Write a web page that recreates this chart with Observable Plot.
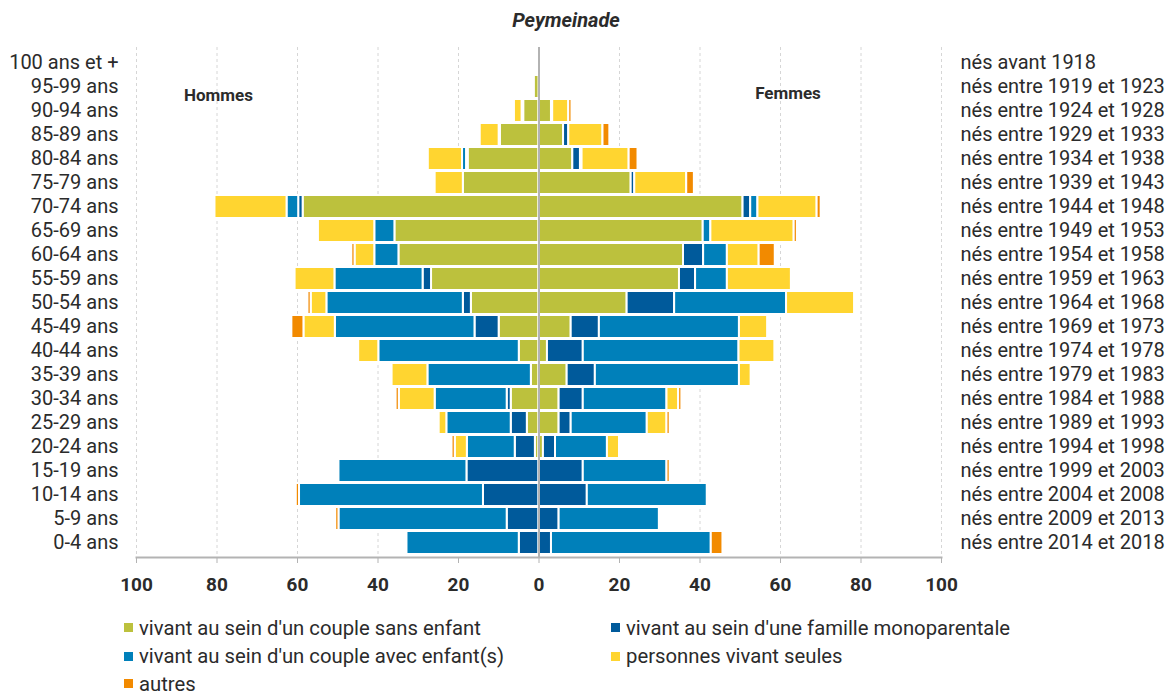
<!DOCTYPE html>
<html>
<head>
<meta charset="utf-8">
<script src="https://cdn.jsdelivr.net/npm/d3@7"></script>
<script src="https://cdn.jsdelivr.net/npm/@observablehq/plot@0.6"></script>
<style>
  html, body { margin: 0; padding: 0; background: #fff; }
  body { width: 1167px; height: 693px; position: relative; overflow: hidden; font-family: Roboto, "Noto Sans", sans-serif; color: #2b2b2b; }
  #title { position: absolute; left: 566px; top: 20px; transform: translate(-50%, -50%); font-weight: bold; font-style: italic; font-size: 20px; line-height: 22px; color: #2b2b2b; white-space: nowrap; }
  #chart { position: absolute; left: 0; top: 36px; }
  .leg { position: absolute; font-size: 20.3px; line-height: 18px; color: #2b2b2b; white-space: nowrap; display: flex; align-items: center; transform: translateY(-50%); }
  .leg span.sw { display: inline-block; width: 9px; height: 9px; margin-right: 6px; }
</style>
</head>
<body>
<div id="title">Peymeinade</div>
<div id="chart"></div>
<div id="legend"></div>
<script>
const ages = ["100 ans et +","95-99 ans","90-94 ans","85-89 ans","80-84 ans","75-79 ans","70-74 ans","65-69 ans","60-64 ans","55-59 ans","50-54 ans","45-49 ans","40-44 ans","35-39 ans","30-34 ans","25-29 ans","20-24 ans","15-19 ans","10-14 ans","5-9 ans","0-4 ans"];
const births = ["nés avant 1918","nés entre 1919 et 1923","nés entre 1924 et 1928","nés entre 1929 et 1933","nés entre 1934 et 1938","nés entre 1939 et 1943","nés entre 1944 et 1948","nés entre 1949 et 1953","nés entre 1954 et 1958","nés entre 1959 et 1963","nés entre 1964 et 1968","nés entre 1969 et 1973","nés entre 1974 et 1978","nés entre 1979 et 1983","nés entre 1984 et 1988","nés entre 1989 et 1993","nés entre 1994 et 1998","nés entre 1999 et 2003","nés entre 2004 et 2008","nés entre 2009 et 2013","nés entre 2014 et 2018"];

const categories = ["vivant au sein d'un couple sans enfant","vivant au sein d'une famille monoparentale","vivant au sein d'un couple avec enfant(s)","personnes vivant seules","autres"];
const colors = ["#bcc13d","#005a9b","#0080ba","#ffd530","#f28a00"];

// Hommes (men), values per age group, top to bottom
const menCoupleSans = [0, 1.2, 3.8, 9.6, 17.6, 18.8, 58.6, 35.8, 34.8, 26.7, 16.8, 9.9, 4.9, 1.9, 6.9, 2.9, 0.9, 0, 0, 0, 0];
const menMono       = [0, 0, 0, 0.3, 0.4, 0, 1.1, 0, 0, 2.1, 2.0, 6.0, 0, 0, 1.0, 4.0, 5.0, 17.9, 13.8, 7.9, 4.9];
const menCoupleAvec = [0, 0, 0.4, 0, 1.0, 0, 2.9, 5.0, 6.0, 21.9, 33.9, 34.7, 34.9, 25.7, 17.9, 16.0, 11.9, 31.8, 45.7, 41.8, 27.9];
const menSeules     = [0, 0.3, 1.9, 4.7, 8.5, 7.0, 17.9, 14.0, 4.9, 9.9, 3.9, 7.8, 5.0, 8.9, 8.9, 1.9, 3.0, 0, 0, 0, 0];
const menAutres     = [0, 0, 0, 0, 0, 0, 0, 0, 0.8, 0, 0.8, 3.0, 0, 0, 0.8, 0, 0.8, 0, 0.8, 0.8, 0];

// Femmes (women)
const womenCoupleSans = [0, 0, 3.1, 6.1, 8.4, 22.9, 50.7, 40.8, 35.9, 34.9, 21.9, 8.0, 2.1, 7.0, 5.0, 5.0, 1.1, 0, 0, 0, 0];
const womenMono       = [0, 0, 0, 1.3, 1.9, 0.9, 1.9, 0, 5.0, 4.0, 11.8, 7.0, 8.9, 7.0, 6.0, 3.0, 3.0, 11.0, 12.0, 5.0, 3.1];
const womenCoupleAvec = [0, 0, 0.3, 0, 0.4, 0, 1.8, 1.9, 5.9, 7.9, 27.8, 34.8, 38.7, 35.8, 20.8, 18.9, 12.9, 20.8, 29.8, 24.9, 39.7];
const womenSeules     = [0, 0, 4.0, 8.5, 11.7, 12.9, 14.7, 20.7, 7.9, 15.9, 16.9, 7.0, 8.9, 2.9, 2.9, 4.9, 3.0, 0, 0, 0, 0];
const womenAutres     = [0, 0, 0.8, 1.7, 2.2, 1.9, 1.0, 0.8, 4.0, 0, 0, 0, 0, 0, 0.8, 0.8, 0, 0.8, 0, 0, 2.9];

const xTicks = [-100, -80, -60, -40, -20, 0, 20, 40, 60, 80, 100];
const sideLabels = ["Hommes", "Femmes"];

const menSeries = [menCoupleSans, menMono, menCoupleAvec, menSeules, menAutres];
const womenSeries = [womenCoupleSans, womenMono, womenCoupleAvec, womenSeules, womenAutres];

const rows = [];
ages.forEach((age, i) => {
  categories.forEach((cat, k) => {
    if (menSeries[k][i] > 0) rows.push({age, cat, value: -menSeries[k][i], side: "H"});
  });
  categories.forEach((cat, k) => {
    if (womenSeries[k][i] > 0) rows.push({age, cat, value: womenSeries[k][i], side: "F"});
  });
});
const birthOf = new Map(ages.map((a, i) => [a, births[i]]));

const chart = Plot.plot({
  width: 1167,
  height: 565,
  marginLeft: 136,
  marginRight: 226,
  marginTop: 11,
  marginBottom: 44,
  style: {fontFamily: "Roboto, 'Noto Sans', sans-serif", color: "#2b2b2b", background: "white"},
  x: {domain: [-100, 100]},
  y: {domain: ages, padding: 0.05},
  color: {domain: categories, range: colors},
  marks: [
    Plot.gridX(xTicks, {stroke: "#d6d6d6", strokeOpacity: 1, strokeDasharray: "3,3"}),
    Plot.barX(rows, Plot.stackX({y: "age", x: "value", z: "side", fill: "cat", stroke: "white", strokeWidth: 2, order: null})),
    Plot.ruleX([0], {stroke: "#b3b3b3", strokeWidth: 2}),
    Plot.frame({anchor: "bottom", stroke: "#b3b3b3", strokeWidth: 2}),
    Plot.axisX(xTicks, {tickFormat: d => Math.abs(d), tickSize: 6, tickPadding: 14, stroke: "#b3b3b3", fill: "#2b2b2b", fontWeight: "bold", fontSize: 19, label: null}),
    Plot.axisY({anchor: "left", tickSize: 0, tickPadding: 18, fontSize: 20, fill: "#2b2b2b", label: null}),
    Plot.axisY({anchor: "right", tickSize: 0, tickPadding: 19, fontSize: 20, fill: "#2b2b2b", tickFormat: d => birthOf.get(d), label: null}),
    Plot.text([sideLabels[0]], {frameAnchor: "top-left", dx: 82, dy: 41, text: d => d, fontWeight: "bold", fontSize: 17, fill: "#2b2b2b", textAnchor: "middle"}),
    Plot.text([sideLabels[1]], {frameAnchor: "top", dx: 249, dy: 39, text: d => d, fontWeight: "bold", fontSize: 17, fill: "#2b2b2b", textAnchor: "middle"})
  ]
});
document.getElementById("chart").appendChild(chart);

// Legend (row-major, two columns)
const legend = document.getElementById("legend");
const colX = [124, 611];
const rowY = [627.5, 656, 683.5];
categories.forEach((cat, k) => {
  const el = document.createElement("div");
  el.className = "leg";
  el.style.left = colX[k % 2] + "px";
  el.style.top = rowY[Math.floor(k / 2)] + "px";
  const sw = document.createElement("span");
  sw.className = "sw";
  sw.style.background = colors[k];
  el.appendChild(sw);
  el.appendChild(document.createTextNode(cat));
  legend.appendChild(el);
});
</script>
</body>
</html>
